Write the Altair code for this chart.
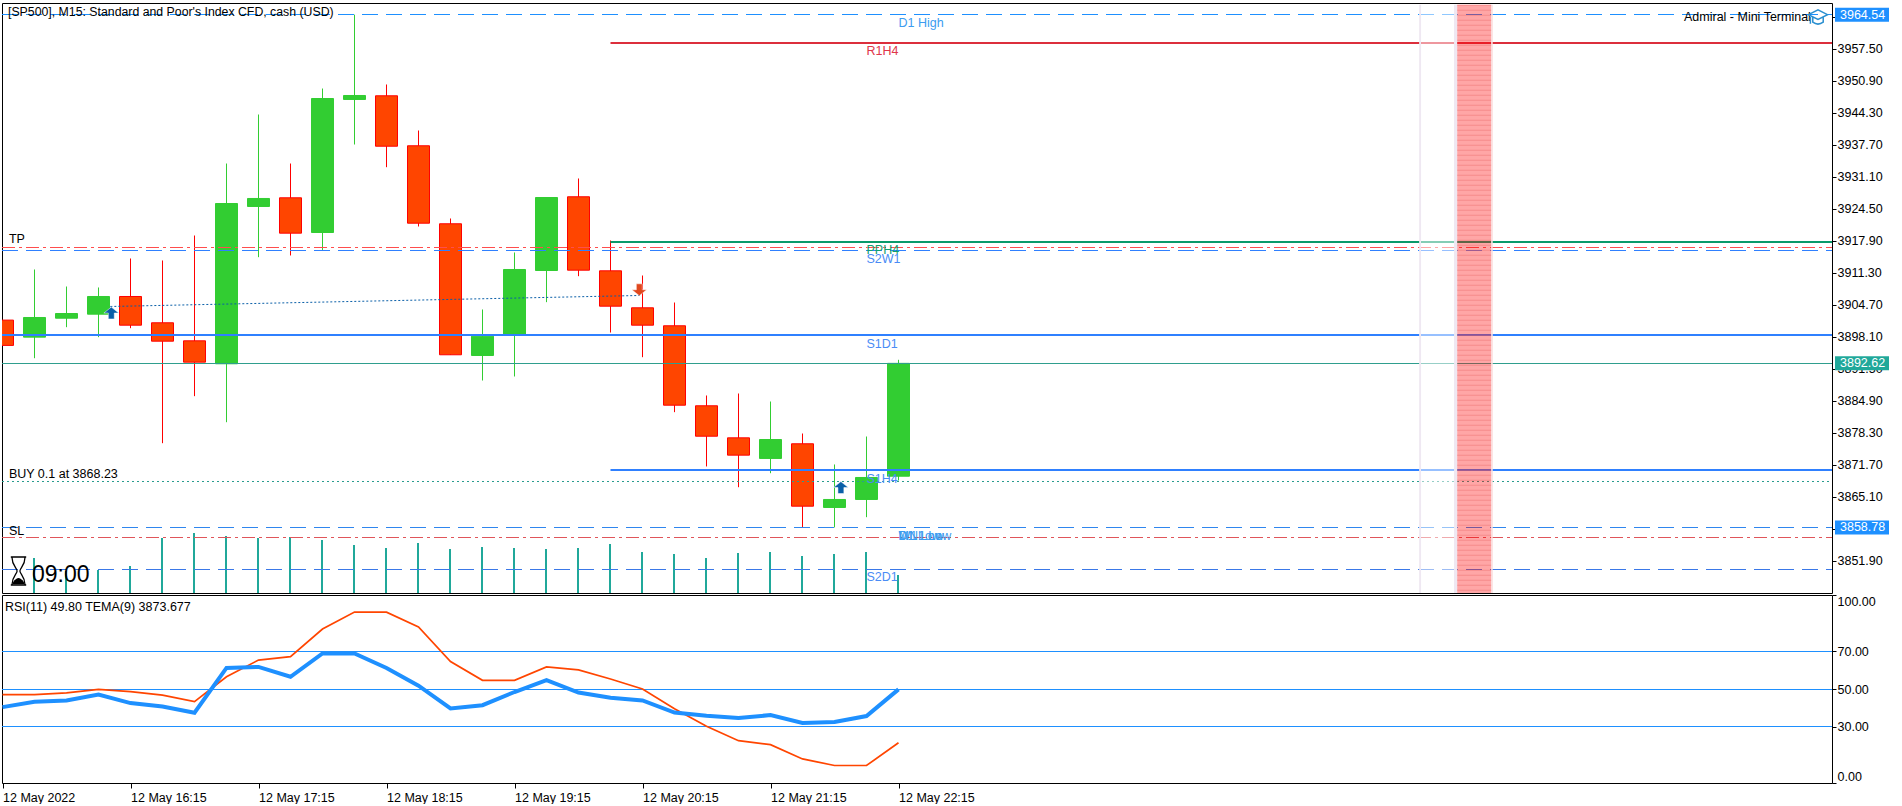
import json
import altair as alt
import pandas as pd

FONT = "Liberation Sans"
FS = 12.5

# --- candles (15 min bars, index 0 = 15:15)
opens  = [3901.54,3898.02,3901.93,3902.76,3906.41,3900.99,3897.27,3892.53,3924.98,3926.77,3919.61,3947.05,3947.81,3937.50,3921.41,3894.24,3898.51,3911.77,3926.98,3911.71,3904.08,3900.37,3883.87,3877.26,3873.00,3876.03,3862.89,3864.54,3869.34]
highs  = [3901.54,3911.98,3908.47,3908.27,3914.25,3913.84,3918.99,3933.84,3943.95,3933.84,3949.31,3964.54,3950.14,3940.65,3922.50,3903.73,3915.49,3926.83,3930.75,3917.96,3910.74,3905.17,3885.99,3886.40,3884.75,3878.15,3871.76,3877.53,3893.35]
lows   = [3896.32,3893.68,3900.08,3898.02,3899.87,3876.15,3885.85,3880.48,3914.52,3914.87,3915.90,3937.76,3933.08,3920.85,3894.39,3889.08,3889.91,3905.24,3910.60,3898.98,3893.89,3882.55,3871.35,3867.07,3869.96,3858.78,3858.78,3860.89,3868.46]
closes = [3896.32,3902.08,3902.90,3906.41,3900.49,3897.19,3892.86,3925.59,3926.63,3919.47,3947.25,3947.87,3937.41,3921.53,3894.39,3898.22,3911.98,3926.83,3911.84,3904.41,3900.49,3883.99,3877.59,3873.68,3876.91,3863.16,3864.54,3869.08,3892.62]
volumes = [0,35,22,23,27,55,60,57,55,56,53,48,45,50,44,46,45,44,45,49,41,39,35,40,41,37,39,41,18]
rsi  = [40.35,43.2,43.9,47.0,42.5,40.7,37.4,61.2,61.75,56.5,68.9,68.9,61.2,51.75,39.65,41.4,48.4,54.7,48.1,45.3,43.9,37.5,35.8,34.6,36.1,31.9,32.5,35.6,49.8]
tema = [47.0,47.0,47.9,49.8,48.6,46.7,43.3,56.5,65.4,67.2,81.9,90.9,90.9,83.0,64.6,54.6,54.6,61.75,60.2,55.3,50.0,39.5,30.2,22.5,20.4,12.8,9.3,9.3,21.4]
idx = list(range(len(opens)))

price_ticks = [3964.10,3957.50,3950.90,3944.30,3937.70,3931.10,3924.50,3917.90,3911.30,3904.70,3898.10,3891.50,3884.90,3878.30,3871.70,3865.10,3858.50,3851.90]
rsi_ticks = [0,30,50,70,100]
rsi_levels = [30, 50, 70]
time_ticks = [0,4,8,12,16,20,24,28]
time_labels = ["12 May 2022","12 May 16:15","12 May 17:15","12 May 18:15","12 May 19:15","12 May 20:15","12 May 21:15","12 May 22:15"]

XMIN, XMAX = -0.015625, 57.171875
PMIN, PMAX = 3845.25, 3966.95
MAIN_H, LOWER_H = 590, 188

# name, price, from-bar, colour, dash, width
levels = [
    ("D1 High",3964.54,XMIN,"#1e90ff",[16,8],1),
    ("R1H4",3958.80,19,"#dc2f3c",None,2),
    ("PPH4",3917.55,19,"#0a9a6a",None,2),
    ("TP",3916.58,XMIN,"#ff4d4d",[13,4,3,4],1),
    ("S2W1",3915.84,XMIN,"#2f80ff",[16,8],1),
    ("S1D1",3898.43,XMIN,"#2f80ff",None,2),
    ("Bid",3892.62,XMIN,"#2f9e8e",None,1),
    ("S1H4",3870.52,19,"#2f80ff",None,2),
    ("Buy",3868.23,XMIN,"#2a9d8f",[2,3],1),
    ("D1 Low",3858.78,XMIN,"#2f86ee",[16,8],1),
    ("SL",3856.64,XMIN,"#e0555a",[13,4,3,4],1),
    ("S2D1",3850.04,XMIN,"#3a78e8",[16,8],1),
]
# text, bar position, price, colour, dy
annotations = [
    ("D1 High",28,3964.54,"#3c9cf0",8.5),
    ("R1H4",27,3958.80,"#e0364a",8),
    ("PPH4",27,3917.55,"#12a070",8),
    ("S2W1",27,3915.84,"#4a8cf5",8),
    ("S1D1",27,3898.43,"#4a8cf5",8.5),
    ("S1H4",27,3870.52,"#4a8cf5",8.5),
    ("S2D1",27,3850.04,"#4a8cf5",7.5),
    ("D1 Low",28,3858.78,"#3c9cf0",8.5),
    ("W1 Low",28,3858.78,"#3c9cf0",8.5),
    ("MN1 Low",28,3858.78,"#3c9cf0",8.5),
    ("TP",0.2,3916.58,"#000000",-7.7),
    ("BUY 0.1 at 3868.23",0.2,3868.23,"#000000",-7.7),
    ("SL",0.2,3856.64,"#000000",-6.6),
]
trade_bars = [3.37, 19.92]
trade_prices = [3904.35, 3906.62]
buy_bars = [3.4, 26.2]
buy_prices = [3903.0, 3867.0]
sell_bars = [19.9]
sell_prices = [3907.8]

xs = alt.Scale(domain=[XMIN, XMAX], nice=False, zero=False, padding=0)
ys = alt.Scale(domain=[PMIN, PMAX], nice=False, zero=False)
vs = alt.Scale(domain=[0, MAIN_H], nice=False, zero=True)
rs = alt.Scale(domain=[0, 100], nice=False)
X = alt.X("k:Q", scale=xs, axis=None)
Y = alt.Y("p:Q", scale=ys, axis=None)


def snap(y, width):
    """Small y offset that lands a thin rule on whole device pixels."""
    target = round(y) if width % 2 == 0 else round(y - 0.5) + 0.5
    return target - y


df = pd.DataFrame({"k": idx, "o": opens, "h": highs, "l": lows, "c": closes, "v": volumes,
                   "zero": [0]*len(idx), "rsi": rsi, "tema": tema})
df["top"] = df[["o", "c"]].max(axis=1)
df["bot"] = df[["o", "c"]].min(axis=1)
df["up"] = df["c"] >= df["o"]
df["fill"] = df["up"].map({True: "#32cd32", False: "#ff4500"})
df["edge"] = df["up"].map({True: "#32cd32", False: "#ff0000"})

layers = []
# axis layer
layers.append(alt.Chart(pd.DataFrame({"k": [20], "p": [3917.9]})).mark_point(opacity=0).encode(
    x=X,
    y=alt.Y("p:Q", scale=ys, title=None, axis=alt.Axis(orient="right", values=price_ticks, format=".2f",
            domain=False, grid=False, tickColor="black", tickSize=4, labelColor="black", labelPadding=1,
            labelFont=FONT, labelFontSize=FS, labelOverlap=False)),
))
layers.append(alt.Chart(df).mark_rule(color="#20a89a", strokeWidth=2, clip=True, xOffset=-0.5).encode(
    x=X, y=alt.Y("v:Q", scale=vs, axis=None), y2="zero:Q"))
layers.append(alt.Chart(df).mark_rule(strokeWidth=1, clip=True).encode(
    x=X, y=alt.Y("h:Q", scale=ys, axis=None), y2="l:Q", color=alt.Color("edge:N", scale=None)))
layers.append(alt.Chart(df).mark_bar(size=22, strokeWidth=1, orient="vertical", clip=True).encode(
    x=X, y=alt.Y("top:Q", scale=ys, axis=None), y2="bot:Q",
    fill=alt.Fill("fill:N", scale=None), stroke=alt.Stroke("edge:N", scale=None)))

for name, price, start, color, dash, width in levels:
    d = pd.DataFrame({"k": [start], "k2": [XMAX], "p": [price]})
    kw = {"strokeDash": dash} if dash else {}
    yp = (PMAX - price) * MAIN_H / (PMAX - PMIN)
    layers.append(alt.Chart(d).mark_rule(color=color, strokeWidth=width, clip=True, yOffset=snap(yp, width), **kw).encode(
        x=X, x2="k2:Q", y=Y))

layers.append(alt.Chart(pd.DataFrame({"k": trade_bars, "p": trade_prices})).mark_line(
    color="#0a5fa8", strokeWidth=1, strokeDash=[2, 2], clip=True).encode(x=X, y=Y))
ARROW_UP = "M0,-0.8 L1,0 L0.4,0 L0.4,0.8 L-0.4,0.8 L-0.4,0 L-1,0 Z"
ARROW_DN = "M0,0.8 L1,0 L0.4,0 L0.4,-0.8 L-0.4,-0.8 L-0.4,0 L-1,0 Z"
layers.append(alt.Chart(pd.DataFrame({"k": buy_bars, "p": buy_prices})).mark_point(
    shape=ARROW_UP, size=220, filled=True, fill="#0a5fa8", stroke="white", strokeWidth=0.5, opacity=1).encode(x=X, y=Y))
layers.append(alt.Chart(pd.DataFrame({"k": sell_bars, "p": sell_prices})).mark_point(
    shape=ARROW_DN, size=220, filled=True, fill="#e0481e", stroke="white", strokeWidth=0.5, opacity=1).encode(x=X, y=Y))

# session bands
def band(a, b, color, op):
    return alt.Chart(pd.DataFrame({"k": [a], "k2": [b], "p": [3966.6], "p2": [PMIN]})).mark_rect(
        color=color, opacity=op).encode(x=X, x2="k2:Q", y=Y, y2="p2:Q")
layers.append(band(44.27, 44.33, "#efe8f2", 1))
layers.append(band(44.33, 45.36, "#ffffff", 0.5))
layers.append(band(45.36, 45.46, "#efe8f2", 1))
layers.append(band(45.46, 46.52, "#ff0000", 0.35))
layers.append(band(46.52, 46.57, "#fbdcdc", 1))
layers.append(alt.Chart(pd.DataFrame({"k": [45.99], "p": [3966.6], "p2": [PMIN]})).mark_rule(
    color="#e86a6a", opacity=0.45, strokeWidth=34, strokeDash=[1, 4], clip=True).encode(x=X, y=Y, y2="p2:Q"))

for text, k, price, color, dy in annotations:
    d = pd.DataFrame({"k": [k], "p": [price], "t": [text]})
    layers.append(alt.Chart(d).mark_text(font=FONT, fontSize=FS, align="left", baseline="middle", color=color, dy=dy).encode(
        x=X, y=Y, text="t:N"))

def fixed_text(text, x, y, size=FS, color="black", align="left", font=FONT):
    return alt.Chart(pd.DataFrame({"t": [text]})).mark_text(font=font, fontSize=size, align=align, baseline="middle", color=color).encode(
        x=alt.value(x), y=alt.value(y), text="t:N")

layers.append(fixed_text("[SP500], M15:  Standard and Poor's Index CFD, cash (USD)", 6, 9, size=12.3))
layers.append(fixed_text("Admiral - Mini Terminal", 1682, 14))
GLASS = "M-0.55,-1 L0.55,-1 M-0.47,-1 C-0.47,-0.4 -0.1,-0.2 -0.1,0 C-0.1,0.2 -0.47,0.4 -0.47,1 L0.47,1 C0.47,0.4 0.1,0.2 0.1,0 C0.1,-0.2 0.47,-0.4 0.47,-1 M-0.55,1 L0.55,1"
SAND = "M-0.42,0.95 C-0.4,0.7 -0.2,0.55 0,0.5 C0.2,0.55 0.4,0.7 0.42,0.95 Z"
layers.append(alt.Chart(pd.DataFrame({"t": [1]})).mark_point(shape=GLASS, size=784, filled=False, stroke="black", strokeWidth=1.3, opacity=1).encode(
    x=alt.value(16.5), y=alt.value(568)))
layers.append(alt.Chart(pd.DataFrame({"t": [1]})).mark_point(shape=SAND, size=784, filled=True, fill="black", opacity=1).encode(
    x=alt.value(16.5), y=alt.value(568)))
layers.append(fixed_text("09:00", 30, 572, size=23))
CAP = "M-1,-0.25 L0,-0.75 L1,-0.25 L0,0.25 Z M-0.55,0 L-0.55,0.55 Q0,0.95 0.55,0.55 L0.55,0 M-0.8,-0.15 L-0.8,0.7"
layers.append(alt.Chart(pd.DataFrame({"t": [1]})).mark_point(shape=CAP, size=361, filled=False, stroke="#2a8fd0", strokeWidth=1.5, opacity=1).encode(
    x=alt.value(1816), y=alt.value(14)))

# price tags on the axis
for price, color, txt in [(3964.54, "#1e90ff", "3964.54"), (3892.62, "#20a89a", "3892.62"), (3858.78, "#1e90ff", "3858.78")]:
    d = pd.DataFrame({"p": [price], "t": [txt]})
    layers.append(alt.Chart(d).mark_rule(color=color, strokeWidth=14).encode(
        x=alt.value(1833), x2=alt.value(1887), y=Y))
    layers.append(alt.Chart(d).mark_text(font=FONT, fontSize=FS, align="left", baseline="middle", color="white").encode(
        x=alt.value(1838), y=Y, text="t:N"))

main = alt.layer(*layers).resolve_scale(y="independent").properties(width=1830, height=MAIN_H)

# --- indicator panel
labelexpr = json.dumps(time_labels) + "[datum.value/4]"
Xr = alt.X("k:Q", scale=xs, title=None, axis=alt.Axis(values=time_ticks, labelExpr=labelexpr, domain=False, grid=False,
           tickColor="black", tickSize=5, labelColor="black", labelAlign="left", labelFont=FONT, labelFontSize=FS, labelPadding=3, labelOverlap=False, labelFlush=False))
Yr = alt.Y("rsi:Q", scale=rs, title=None, axis=alt.Axis(orient="right", values=rsi_ticks, format=".2f", domain=False, grid=False,
           tickColor="black", tickSize=4, labelColor="black", labelFont=FONT, labelFontSize=FS, labelPadding=1, labelFlush=True))
Yn = alt.Y("rsi:Q", scale=rs, axis=None)
lower_layers = []
lower_layers.append(alt.Chart(df).mark_line(color="#1e90ff", strokeWidth=4, opacity=0).encode(x=Xr, y=Yr))
for lv in rsi_levels:
    yp = (100 - lv) * LOWER_H / 100
    lower_layers.append(alt.Chart(pd.DataFrame({"rsi": [lv], "k": [XMIN], "k2": [XMAX]})).mark_rule(
        color="#1e90ff", strokeWidth=1, yOffset=snap(yp, 1)).encode(
        x=alt.X("k:Q", scale=xs, axis=None), x2="k2:Q", y=Yn))
Xn = alt.X("k:Q", scale=xs, axis=None)
lower_layers.append(alt.Chart(df).mark_line(color="#ff4500", strokeWidth=1.7, clip=True).encode(x=Xn, y=alt.Y("tema:Q", scale=rs, axis=None)))
lower_layers.append(alt.Chart(df).mark_line(color="#1e90ff", strokeWidth=4, clip=True).encode(x=Xn, y=Yn))
lower_layers.append(fixed_text("RSI(11) 49.80 TEMA(9) 3873.677", 3, 12))
lower = alt.layer(*lower_layers).resolve_axis(x="independent", y="independent").properties(width=1830, height=LOWER_H)

chart = alt.vconcat(main, lower, spacing=0).properties(
    padding={"left": 1, "top": 2, "right": 0, "bottom": 0}, background="white"
).configure_view(stroke="black", strokeWidth=1)

chart.save("out.html", embed_options={"renderer": "svg", "actions": False, "defaultStyle": "body{margin:0}"})
